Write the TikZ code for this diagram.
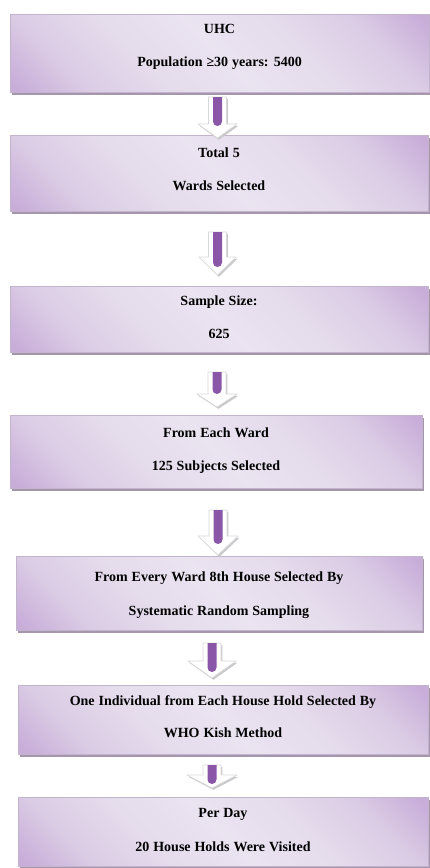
\documentclass[tikz,border=0pt]{standalone}
\usepackage{fontspec}
\setmainfont{Liberation Serif}
\newfontfamily\lblfamily{Liberation Serif}[WordSpace=1.12]
\usetikzlibrary{shadows,calc}

\definecolor{boxlight}{HTML}{EAE3F0}
\definecolor{boxmid}{HTML}{E5DCEC}
\definecolor{boxsoft}{HTML}{DBCCE5}
\definecolor{boxdark}{HTML}{C8ADD9}
\definecolor{boxedge}{HTML}{C2B4CB}
\definecolor{boxshadow}{HTML}{A596AE}
\definecolor{barpurple}{HTML}{8A56A8}
\definecolor{arrowedge}{HTML}{C9C9CC}

% soft lavender fill, darker towards two opposite corners
\pgfdeclareverticalshading{boxshade}{100bp}{%
  color(0bp)=(boxdark); color(16bp)=(boxdark); color(26bp)=(boxsoft);
  color(38bp)=(boxmid); color(50bp)=(boxlight); color(62bp)=(boxmid);
  color(74bp)=(boxsoft); color(84bp)=(boxdark); color(100bp)=(boxdark)}

% outline of a block arrow: #1,#2 offset, #3 start, #4 tip, #5 head half width, #6 head height
\newcommand\arrowoutline[6]{%
  let \p1=(#3),\p2=(#4) in
  (\x1-9pt+#1,\y1+#2) -- (\x1+9pt+#1,\y1+#2) -- (\x1+9pt+#1,\y2+#6+#2)
  -- (\x1+#5+#1,\y2+#6+#2) -- (\x2+#1,\y2+#2) -- (\x1-#5+#1,\y2+#6+#2)
  -- (\x1-9pt+#1,\y2+#6+#2) -- cycle}

% block arrow with purple bar: #1 start, #2 tip, #3 head half width,
% #4 head height, #5 gap between bar end and tip
\newcommand\flowarrow[5]{%
  \fill[arrowedge] \arrowoutline{1.4pt}{-1.8pt}{#1}{#2}{#3}{#4};
  \filldraw[fill=white, draw=arrowedge!70, line width=0.6pt]
    \arrowoutline{0pt}{0pt}{#1}{#2}{#3}{#4};
  \fill[barpurple] let \p1=(#1),\p2=(#2) in
    (\x1-4.5pt,\y1) -- (\x1-4.5pt,\y2+#5+4.5pt) arc (180:360:4.5pt)
    -- (\x1+4.5pt,\y1) -- cycle;
}

\tikzset{
  box/.style={rectangle, inner sep=0pt, draw=boxedge, line width=0.5pt,
    shading=boxshade, shading angle=-45,
    drop shadow={shadow xshift=1.5pt, shadow yshift=-2.5pt,
      fill=boxshadow, opacity=1}},
  lbl/.style={anchor=base, inner sep=0pt, text=black,
    font=\lblfamily\bfseries\fontsize{14}{16}\selectfont}
}

\begin{document}
\begin{tikzpicture}[x=1pt,y=-1pt]
  \useasboundingbox (0,0) rectangle (429,868);
  \fill[white] (0,0) rectangle (429,868);

  % boxes
  \node[box, minimum width=419pt, minimum height=78pt] (b1) at (219.5,53) {};
  \node[box, minimum width=418pt, minimum height=76pt] (b2) at (219,173) {};
  \node[box, minimum width=418pt, minimum height=66pt] (b3) at (219,319) {};
  \node[box, minimum width=412pt, minimum height=73pt] (b4) at (216,451.5) {};
  \node[box, minimum width=406pt, minimum height=74pt] (b5) at (219,593) {};
  \node[box, minimum width=410pt, minimum height=69pt] (b6) at (223,719.5) {};
  \node[box, minimum width=410pt, minimum height=69pt] (b7) at (223,831.5) {};

  % texts
  \node[lbl] (t1a) at (219.5,33) {UHC};
  \node[lbl] (t1b) at (219.5,66) {Population ≥30 years: 5400};
  \node[lbl] (t2a) at (219,157) {Total 5};
  \node[lbl] (t2b) at (219,190) {Wards Selected};
  \node[lbl] (t3a) at (219,305) {Sample Size:};
  \node[lbl] (t3b) at (219,338) {625};
  \node[lbl] (t4a) at (216,437) {From Each Ward};
  \node[lbl] (t4b) at (216,470) {125 Subjects Selected};
  \node[lbl] (t5a) at (219,581) {From Every Ward 8th House Selected By};
  \node[lbl] (t5b) at (219,615) {Systematic Random Sampling};
  \node[lbl] (t6a) at (223,705) {One Individual from Each House Hold Selected By};
  \node[lbl] (t6b) at (223,737) {WHO Kish Method};
  \node[lbl] (t7a) at (223,817) {Per Day};
  \node[lbl] (t7b) at (223,851) {20 House Holds Were Visited};

  % arrow end points
  \coordinate (a1s) at (217.5,97);  \coordinate (a1e) at (217.5,138);
  \coordinate (a2s) at (217.5,232); \coordinate (a2e) at (217.5,275);
  \coordinate (a3s) at (217,372);   \coordinate (a3e) at (217,407);
  \coordinate (a4s) at (218,510);   \coordinate (a4e) at (218,555);
  \coordinate (a5s) at (212,643);   \coordinate (a5e) at (212,678);
  \coordinate (a6s) at (212,765);   \coordinate (a6e) at (212,788);

  \flowarrow{a1s}{a1e}{19.5pt}{14pt}{12pt}
  \flowarrow{a2s}{a2e}{18.5pt}{18pt}{8pt}
  \flowarrow{a3s}{a3e}{20pt}{13pt}{13pt}
  \flowarrow{a4s}{a4e}{20pt}{19pt}{11pt}
  \flowarrow{a5s}{a5e}{24pt}{17pt}{6pt}
  \flowarrow{a6s}{a6e}{25pt}{13pt}{4pt}
\end{tikzpicture}
\end{document}
